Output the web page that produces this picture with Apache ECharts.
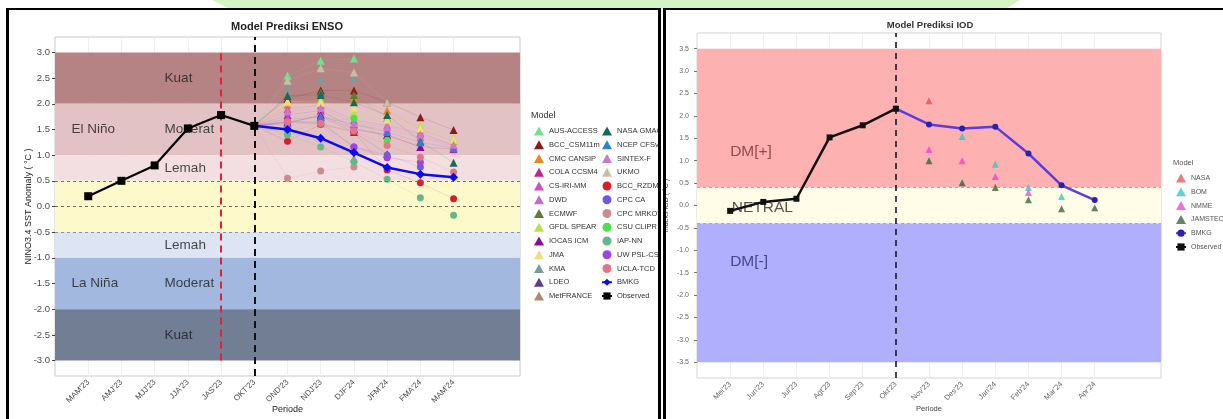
<!DOCTYPE html>
<html><head><meta charset="utf-8">
<script src="https://cdn.jsdelivr.net/npm/echarts@6/dist/echarts.min.js"></script>
<style>
html,body{margin:0;padding:0;background:#fff;}
#wrap{position:relative;width:1223px;height:419px;overflow:hidden;background:#fff;}
#banner{position:absolute;left:0;top:0;width:1223px;height:9px;background:#D3F5C4;clip-path:polygon(212px 0,1020px 0,1006px 9px,230px 9px);}
#enso{position:absolute;left:0;top:0;width:661px;height:419px;}
#iod{position:absolute;left:662px;top:0;width:561px;height:419px;}
.bar{position:absolute;background:#000;}
</style></head>
<body><div id="wrap">
<div id="banner"></div>
<div id="enso"></div><div id="iod"></div>
<div class="bar" style="left:6px;top:8px;width:3px;height:411px"></div>
<div class="bar" style="left:6px;top:8px;width:655px;height:2px"></div>
<div class="bar" style="left:658px;top:8px;width:3px;height:411px"></div>
<div class="bar" style="left:663px;top:8px;width:3px;height:411px"></div>
<div class="bar" style="left:663px;top:8px;width:560px;height:2px"></div>
</div>
<script>
// ---------------- DATA: ENSO ----------------
const ensoPeriods = ["MAM'23","AMJ'23","MJJ'23","JJA'23","JAS'23","OKT'23","OND'23","NDJ'23","DJF'24","JFM'24","FMA'24","MAM'24"];
const ensoYTicks = [-3,-2.5,-2,-1.5,-1,-0.5,0,0.5,1,1.5,2,2.5,3];
const ensoObserved = [0.20, 0.50, 0.80, 1.52, 1.78, 1.57];          // MAM'23 .. OKT'23
const ensoBMKG = [1.57, 1.50, 1.33, 1.05, 0.76, 0.63, 0.57];         // OKT'23 .. MAM'24
const ensoModelNames = ['AUS-ACCESS','BCC_CSM11m','CMC CANSIP','COLA CCSM4','CS-IRI-MM','DWD','ECMWF','GFDL SPEAR','IOCAS ICM','JMA','KMA','LDEO','MetFRANCE','NASA GMAO','NCEP CFSv2','SINTEX-F','UKMO','BCC_RZDM','CPC CA','CPC MRKOV','CSU CLIPR','IAP-NN','UW PSL-CSLIM','UCLA-TCD'];
// values for OND'23, NDJ'23, DJF'24, JFM'24, FMA'24, MAM'24
const ensoModelValues = [
  [2.55, 2.84, 2.88, null, null, null],
  [2.10, 2.26, 2.26, 2.03, 1.74, 1.49],
  [1.98, 2.12, 2.10, 1.87, 1.50, 1.28],
  [1.78, 1.87, 1.52, 1.39, 1.16, 1.12],
  [1.90, 1.97, 1.68, 1.58, 1.43, 1.19],
  [1.72, 1.82, 1.58, 1.50, 1.35, 1.17],
  [2.15, 2.22, 2.17, 1.72, null, null],
  [2.03, 2.07, 1.83, 1.68, 1.58, 1.33],
  [1.62, 1.78, 1.50, 1.39, 1.16, null],
  [2.05, 2.02, 1.93, 1.70, 1.52, 1.30],
  [2.30, 2.46, 2.49, null, null, null],
  [1.65, 1.75, 1.45, 1.02, null, null],
  [1.60, 1.62, 0.94, null, null, null],
  [2.15, 2.17, 2.03, 1.78, 1.27, 0.85],
  [1.70, 1.75, 1.60, 1.45, 1.25, 1.14],
  [1.85, 1.92, 1.62, 1.55, 1.40, 1.20],
  [2.45, 2.69, 2.61, 2.03, null, null],
  [1.27, 1.60, 1.45, 0.71, 0.46, 0.15],
  [1.65, 1.62, 1.16, 1.00, 0.77, null],
  [0.55, 0.69, 0.77, null, null, null],
  [1.45, 1.62, 1.72, 1.29, null, null],
  [1.39, 1.16, 0.87, 0.53, 0.17, -0.17],
  [1.65, 1.65, 1.16, 0.95, 0.86, null],
  [1.65, 1.62, 1.47, 1.19, 0.96, 0.67]
];
const ensoBandEdges = [[2,3],[1,2],[0.5,1],[-0.5,0.5],[-1,-0.5],[-2,-1],[-3,-2]];
const ensoZoneText = ['Kuat','Moderat','Lemah','El Niño','Lemah','Moderat','Kuat','La Niña'];
const ensoZoneX = [3.3, 3.3, 3.3, 0.5, 3.3, 3.3, 3.3, 0.5];
const ensoZoneY = [2.5, 1.5, 0.75, 1.5, -0.75, -1.5, -2.5, -1.5];

// ---------------- DATA: IOD ----------------
const iodMonths = ["Mei'23","Jun'23","Jul'23","Agt'23","Sep'23","Okt'23","Nov'23","Des'23","Jan'24","Feb'24","Mar'24","Apr'24"];
const iodYTicks = [-3.5,-3,-2.5,-2,-1.5,-1,-0.5,0,0.5,1,1.5,2,2.5,3,3.5];
const iodObserved = [-0.12, 0.08, 0.15, 1.52, 1.79, 2.16];            // Mei'23 .. Okt'23
const iodBMKG = [2.16, 1.81, 1.72, 1.76, 1.16, 0.45, 0.12];           // Okt'23 .. Apr'24
const iodModelNames = ['NASA','BOM','NMME','JAMSTEC'];
// values for Nov'23 .. Apr'24
const iodModelValues = [
  [2.34, null, null, null, null, null],
  [null, 1.54, 0.92, 0.40, 0.20, null],
  [1.25, 1.00, 0.65, 0.29, null, null],
  [1.00, 0.51, 0.40, 0.13, -0.07, -0.05]
];
const iodBandEdges = [[0.4,3.5],[-0.4,0.4],[-3.5,-0.4]];
const iodZoneText = ['DM[+]','NETRAL','DM[-]'];
const iodZoneX = [1.0, 1.05, 1.0];
const iodZoneY = [1.2, -0.04, -1.25];

// ---------------- STYLES ----------------
const FONT = '"Liberation Sans", Arial, Helvetica, sans-serif';
const ensoModelColors = ['#6EE38C','#8B1A1A','#E8891C','#C2238C','#CC4FCC','#C86AC8','#5B7F2B','#BFE045','#8A0A9A','#F2DC82','#7C9C9A','#5E3A8E','#B08A6E','#136B5C','#2B82D9','#C97BCB','#C9C0A3','#D91E2A','#6B5BE0','#C98D8D','#4CE04A','#62B889','#9B45E2','#E57389'];
const ensoModelShapes = ensoModelNames.map((n,i)=> i < 17 ? 'triangle' : 'circle');
const ensoBandColors = ['#B68385','#E3C2C5','#F3DFE1','#FDF9CA','#DDE4F3','#A3B8DF','#727E94'];
const iodModelColors = ['#E2504C','#2EC4C4','#EA3FD6','#2E5E2E'];
const iodBandColors = ['#FDB1B1','#FFFDE8','#AFAFFD'];
const iodZoneColors = ['#7E2E2E','#2a2a2a','#2B2B6E'];

// ================= ENSO CHART =================
const ensoChart = echarts.init(document.getElementById('enso'));
const OKT = 6;
const ensoSeries = [];
ensoSeries.push({
  type:'scatter', name:'_zones', z:2, silent:true, symbol:'circle', symbolSize:1,
  itemStyle:{color:'rgba(0,0,0,0)'},
  data: ensoZoneText.map((t,i)=>({value:[ensoZoneX[i], ensoZoneY[i]],
    label:{show:true, formatter:t, position:'inside', align:'left', verticalAlign:'middle', fontSize:13.5, color:'#1c1c1c', fontFamily:FONT}})),
  markArea:{silent:true, z:1, data: ensoBandEdges.map((e,i)=>[{yAxis:e[0], itemStyle:{color:ensoBandColors[i]}},{yAxis:e[1]}])},
  markLine:{silent:true, z:5, symbol:'none', label:{show:false}, animation:false,
    data:[
      {yAxis:0.5, lineStyle:{color:'#E0453A', type:[3,3], width:1}},
      {yAxis:0, lineStyle:{color:'#6E6A55', type:[3,3], width:1}},
      {yAxis:-0.5, lineStyle:{color:'#8E8EA6', type:[3,3], width:1}},
      [{coord:[5,-3], lineStyle:{color:'#E8202E', type:[7,5], width:2}},{coord:[5,3]}],
      {xAxis:OKT, lineStyle:{color:'#111', type:[7,5], width:2}}
    ]}
});
ensoModelNames.forEach((name,i)=>{
  const data = [{value:[OKT, ensoObserved[ensoObserved.length-1]], symbol:'none'}];
  ensoModelValues[i].forEach((v,j)=>data.push([OKT+1+j, v==null?'-':v]));
  ensoSeries.push({
    type:'line', name, z:3, symbol:ensoModelShapes[i], symbolSize: ensoModelShapes[i]==='triangle'?8:7,
    connectNulls:false, showSymbol:true,
    itemStyle:{color:ensoModelColors[i]},
    lineStyle:{color:ensoModelColors[i], width:0.5, opacity:0.3},
    data
  });
});
ensoSeries.push({
  type:'line', name:'BMKG', z:6, symbol:'diamond', symbolSize:9,
  itemStyle:{color:'#0B0BF2'}, lineStyle:{color:'#0B0BF2', width:2.5},
  data: ensoBMKG.map((v,j)=>[OKT+j, v])
});
ensoSeries.push({
  type:'line', name:'Observed', z:7, symbol:'rect', symbolSize:8,
  itemStyle:{color:'#000'}, lineStyle:{color:'#000', width:2.2},
  data: ensoObserved.map((v,j)=>[1+j, v])
});

const legendCommon = {orient:'vertical', padding:0, itemWidth:10, itemHeight:9, itemGap:4.75, itemTextGap:5, selectedMode:false,
  textStyle:{fontSize:7.5, color:'#333', lineHeight:9, fontFamily:FONT}};
ensoChart.setOption({
  animation:false,
  textStyle:{fontFamily:FONT},
  grid:{left:55, top:37, width:465, height:339, show:true, borderColor:'#C8C8C8', borderWidth:1, containLabel:false, outerBoundsMode:'none'},
  xAxis:{type:'value', min:0, max:14, interval:1, nameMoveOverlap:false,
    axisLine:{show:false},
    axisTick:{show:true, length:3, lineStyle:{color:'#444'}, customValues: ensoPeriods.map((p,i)=>i+1)},
    axisLabel:{customValues: ensoPeriods.map((p,i)=>i+1), rotate:45, fontSize:8, color:'#4D4D4D', margin:5,
      formatter:v=> (v>=1 && v<=ensoPeriods.length) ? ensoPeriods[Math.round(v)-1] : ''},
    splitLine:{show:true, lineStyle:{color:'#EBEBEB', width:0.8}},
    name:'Periode', nameLocation:'middle', nameGap:29, nameTextStyle:{fontSize:9, color:'#222'}},
  yAxis:{type:'value', min:-3.3, max:3.3, nameMoveOverlap:false,
    axisLine:{show:false},
    axisTick:{show:true, length:3, lineStyle:{color:'#444'}, customValues: ensoYTicks},
    axisLabel:{customValues: ensoYTicks, formatter:v=>v.toFixed(1), fontSize:9.5, color:'#4D4D4D', margin:5},
    splitLine:{show:false},
    name:'NINO3.4 SST Anomaly ( °C )', nameLocation:'middle', nameGap:22, nameTextStyle:{fontSize:9, color:'#222'}},
  legend:[
    Object.assign({}, legendCommon, {left:534, top:126.5,
      data: ensoModelNames.slice(0,13).map((n,i)=>({name:n, icon:ensoModelShapes[i]}))}),
    Object.assign({}, legendCommon, {left:601, top:126.5,
      data: ensoModelNames.slice(13).map((n,i)=>({name:n, icon:ensoModelShapes[13+i]})).concat([{name:'BMKG'},{name:'Observed'}])})
  ],
  graphic:[
    {type:'text', x:287, y:27, style:{text:'Model Prediksi ENSO', fontSize:11, fontWeight:'bold', fill:'#222', align:'center', verticalAlign:'middle', fontFamily:FONT}},
    {type:'text', x:531, y:116, style:{text:'Model', fontSize:9, fill:'#333', align:'left', verticalAlign:'middle', fontFamily:FONT}}
  ],
  series: ensoSeries
});

// ================= IOD CHART =================
const iodChart = echarts.init(document.getElementById('iod'));
const iodSeries = [];
iodSeries.push({
  type:'scatter', name:'_zones', z:2, silent:true, symbol:'circle', symbolSize:1,
  itemStyle:{color:'rgba(0,0,0,0)'},
  data: iodZoneText.map((t,i)=>({value:[iodZoneX[i], iodZoneY[i]],
    label:{show:true, formatter:t, position:'inside', align:'left', verticalAlign:'middle', fontSize:15.5, color:iodZoneColors[i], fontFamily:FONT}})),
  markArea:{silent:true, z:1, data: iodBandEdges.map((e,i)=>[{yAxis:e[0], itemStyle:{color:iodBandColors[i]}},{yAxis:e[1]}])},
  markLine:{silent:true, z:5, symbol:'none', label:{show:false}, animation:false,
    data:[
      {yAxis:0.4, lineStyle:{color:'#A8A8A8', type:[3,3], width:1}},
      {yAxis:-0.4, lineStyle:{color:'#A8A8B8', type:[3,3], width:1}},
      {xAxis:OKT, lineStyle:{color:'#1a1a2a', type:[6,5], width:1.6}}
    ]}
});
iodModelNames.forEach((name,i)=>{
  const data = [];
  iodModelValues[i].forEach((v,j)=>{ if(v!=null) data.push([OKT+1+j, v]); });
  iodSeries.push({type:'scatter', name, z:3, symbol:'triangle', symbolSize:7,
    itemStyle:{color:iodModelColors[i], opacity:0.75}, data});
});
iodSeries.push({
  type:'line', name:'BMKG', z:6, symbol:'circle', symbolSize:6,
  itemStyle:{color:'#2A1FB0'}, lineStyle:{color:'#5A3CE0', width:2.5},
  data: iodBMKG.map((v,j)=>[OKT+j, v])
});
iodSeries.push({
  type:'line', name:'Observed', z:7, symbol:'rect', symbolSize:6,
  itemStyle:{color:'#111'}, lineStyle:{color:'#111', width:2.5},
  data: iodObserved.map((v,j)=>[1+j, v])
});
iodChart.setOption({
  animation:false,
  textStyle:{fontFamily:FONT},
  grid:{left:35, top:33, width:464, height:345, show:true, borderColor:'#D4D4D4', borderWidth:1, containLabel:false, outerBoundsMode:'none'},
  xAxis:{type:'value', min:0, max:14, interval:1, nameMoveOverlap:false,
    axisLine:{show:false},
    axisTick:{show:true, length:3, lineStyle:{color:'#777'}, customValues: iodMonths.map((p,i)=>i+1)},
    axisLabel:{customValues: iodMonths.map((p,i)=>i+1), rotate:45, fontSize:7.5, color:'#666', margin:5,
      formatter:v=> (v>=1 && v<=iodMonths.length) ? iodMonths[Math.round(v)-1] : ''},
    splitLine:{show:true, lineStyle:{color:'#EBEBEB', width:0.8}},
    name:'Periode', nameLocation:'middle', nameGap:27, nameTextStyle:{fontSize:7.5, color:'#444'}},
  yAxis:{type:'value', min:-3.85, max:3.85, nameMoveOverlap:false,
    axisLine:{show:false},
    axisTick:{show:true, length:3, lineStyle:{color:'#777'}, customValues: iodYTicks},
    axisLabel:{customValues: iodYTicks, formatter:v=>v.toFixed(1), fontSize:7, color:'#666', margin:8},
    splitLine:{show:false},
    name:'Indeks IOD ( °C )', nameLocation:'middle', nameGap:27, nameTextStyle:{fontSize:7, color:'#444'}},
  legend:[{orient:'vertical', padding:0, left:513, top:173.5, itemWidth:10, itemHeight:9, itemGap:4.8, itemTextGap:5, selectedMode:false,
    textStyle:{fontSize:7, color:'#555', lineHeight:9, fontFamily:FONT},
    data: iodModelNames.map(n=>({name:n, icon:'triangle'})).concat([{name:'BMKG'},{name:'Observed'}])}],
  graphic:[
    {type:'text', x:268, y:25, style:{text:'Model Prediksi IOD', fontSize:9.5, fontWeight:'bold', fill:'#333', align:'center', verticalAlign:'middle', fontFamily:FONT}},
    {type:'text', x:511, y:163, style:{text:'Model', fontSize:7.5, fill:'#555', align:'left', verticalAlign:'middle', fontFamily:FONT}}
  ],
  series: iodSeries
});
</script>
</body></html>
